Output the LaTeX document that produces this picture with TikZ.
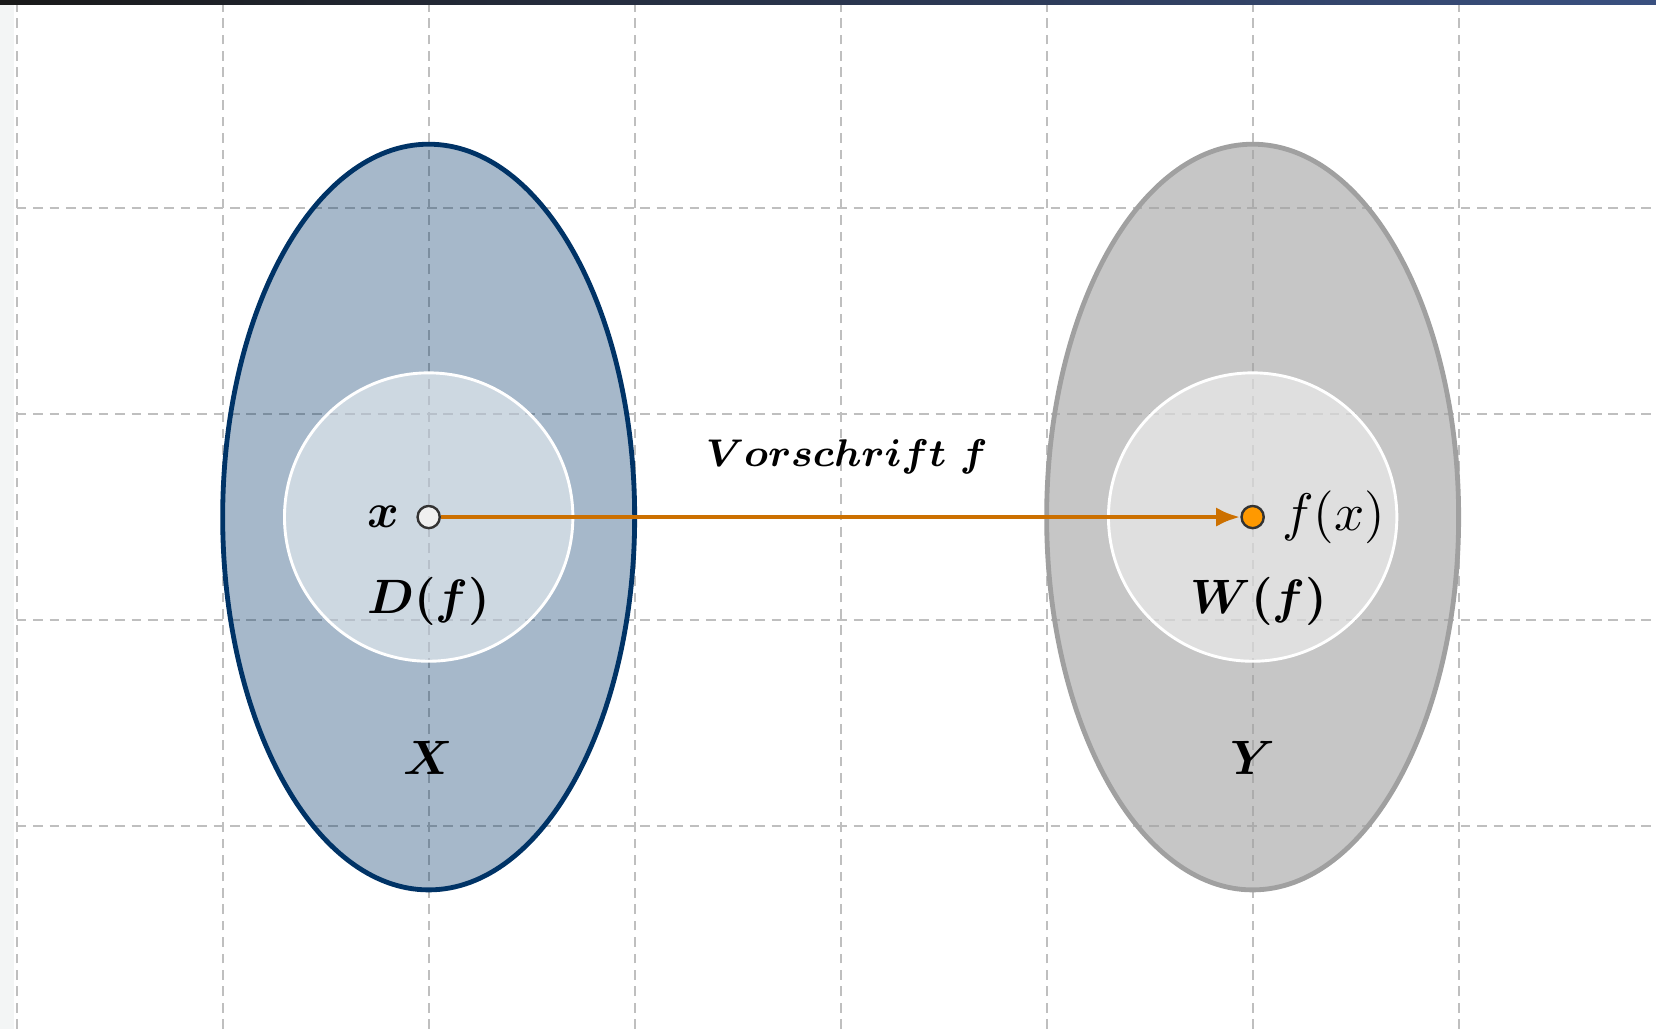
\documentclass[tikz,border=0pt]{standalone}
\usepackage{amsmath,bm}
\usetikzlibrary{arrows.meta,positioning}
\definecolor{navy}{RGB}{0,51,102}
\definecolor{setgray}{RGB}{160,160,160}
\definecolor{arroworange}{RGB}{204,112,0}
\definecolor{dotorange}{RGB}{255,153,0}
\definecolor{stripgray}{RGB}{243,245,245}
\definecolor{barblue}{RGB}{58,80,128}

\begin{document}
\begin{tikzpicture}[x=1.5cm,y=1.5cm,
    gridline/.style={gray!50,line width=0.35pt,dash pattern=on 2pt off 1.4pt},
    setX/.style={draw=navy,fill=navy,fill opacity=0.35,line width=1pt},
    setY/.style={draw=setgray,fill=setgray,fill opacity=0.6,line width=1pt},
    inner/.style={draw=white,fill=white,fill opacity=0.45,line width=0.6pt},
    dot/.style={circle,draw=black!80,line width=0.5pt,inner sep=0pt,minimum size=4.6pt}]
  \useasboundingbox (-0.081,0.015) rectangle (7.958,5.01);
  \fill[stripgray] (-0.081,0.015) rectangle (-0.013,5.01);
  \foreach \i in {0,...,7} \draw[gridline] (\i,0.015) -- (\i,5.01);
  \foreach \j in {1,...,4} \draw[gridline] (0,\j) -- (7.958,\j);
  \shade[left color=black!90,right color=barblue] (-0.081,4.99) rectangle (7.958,5.01);

  % Definitionsmenge und Zielmenge
  \draw[setX] (2,2.5) ellipse [x radius=1,y radius=1.81];
  \draw[inner] (2,2.5) circle [radius=0.7];
  \draw[setY] (6,2.5) ellipse [x radius=1,y radius=1.81];
  \draw[inner] (6,2.5) circle [radius=0.7];

  \node[dot,fill=black!6] (x) at (2,2.5) {};
  \node[dot,fill=dotorange] (fx) at (6,2.5) {};
  \draw[-{Latex[length=5pt,width=4pt]},arroworange,line width=1pt] (x) -- (fx);

  \node[left=0pt of x] (xl) {$\bm{x}$};
  \node[right=0pt of fx,font=\fontsize{11}{13}\selectfont] (fxl) {$f(x)$};
  \node (df) at (2,2.09) {$\bm{D(f)}$};
  \node (wf) at (6.03,2.09) {$\bm{W(f)}$};
  \node (sx) at (2,1.33) {$\bm{X}$};
  \node (sy) at (6,1.33) {$\bm{Y}$};
  \node[font=\footnotesize] (vf) at (4.03,2.79) {$\bm{Vorschrift\ f}$};
\end{tikzpicture}
\end{document}
